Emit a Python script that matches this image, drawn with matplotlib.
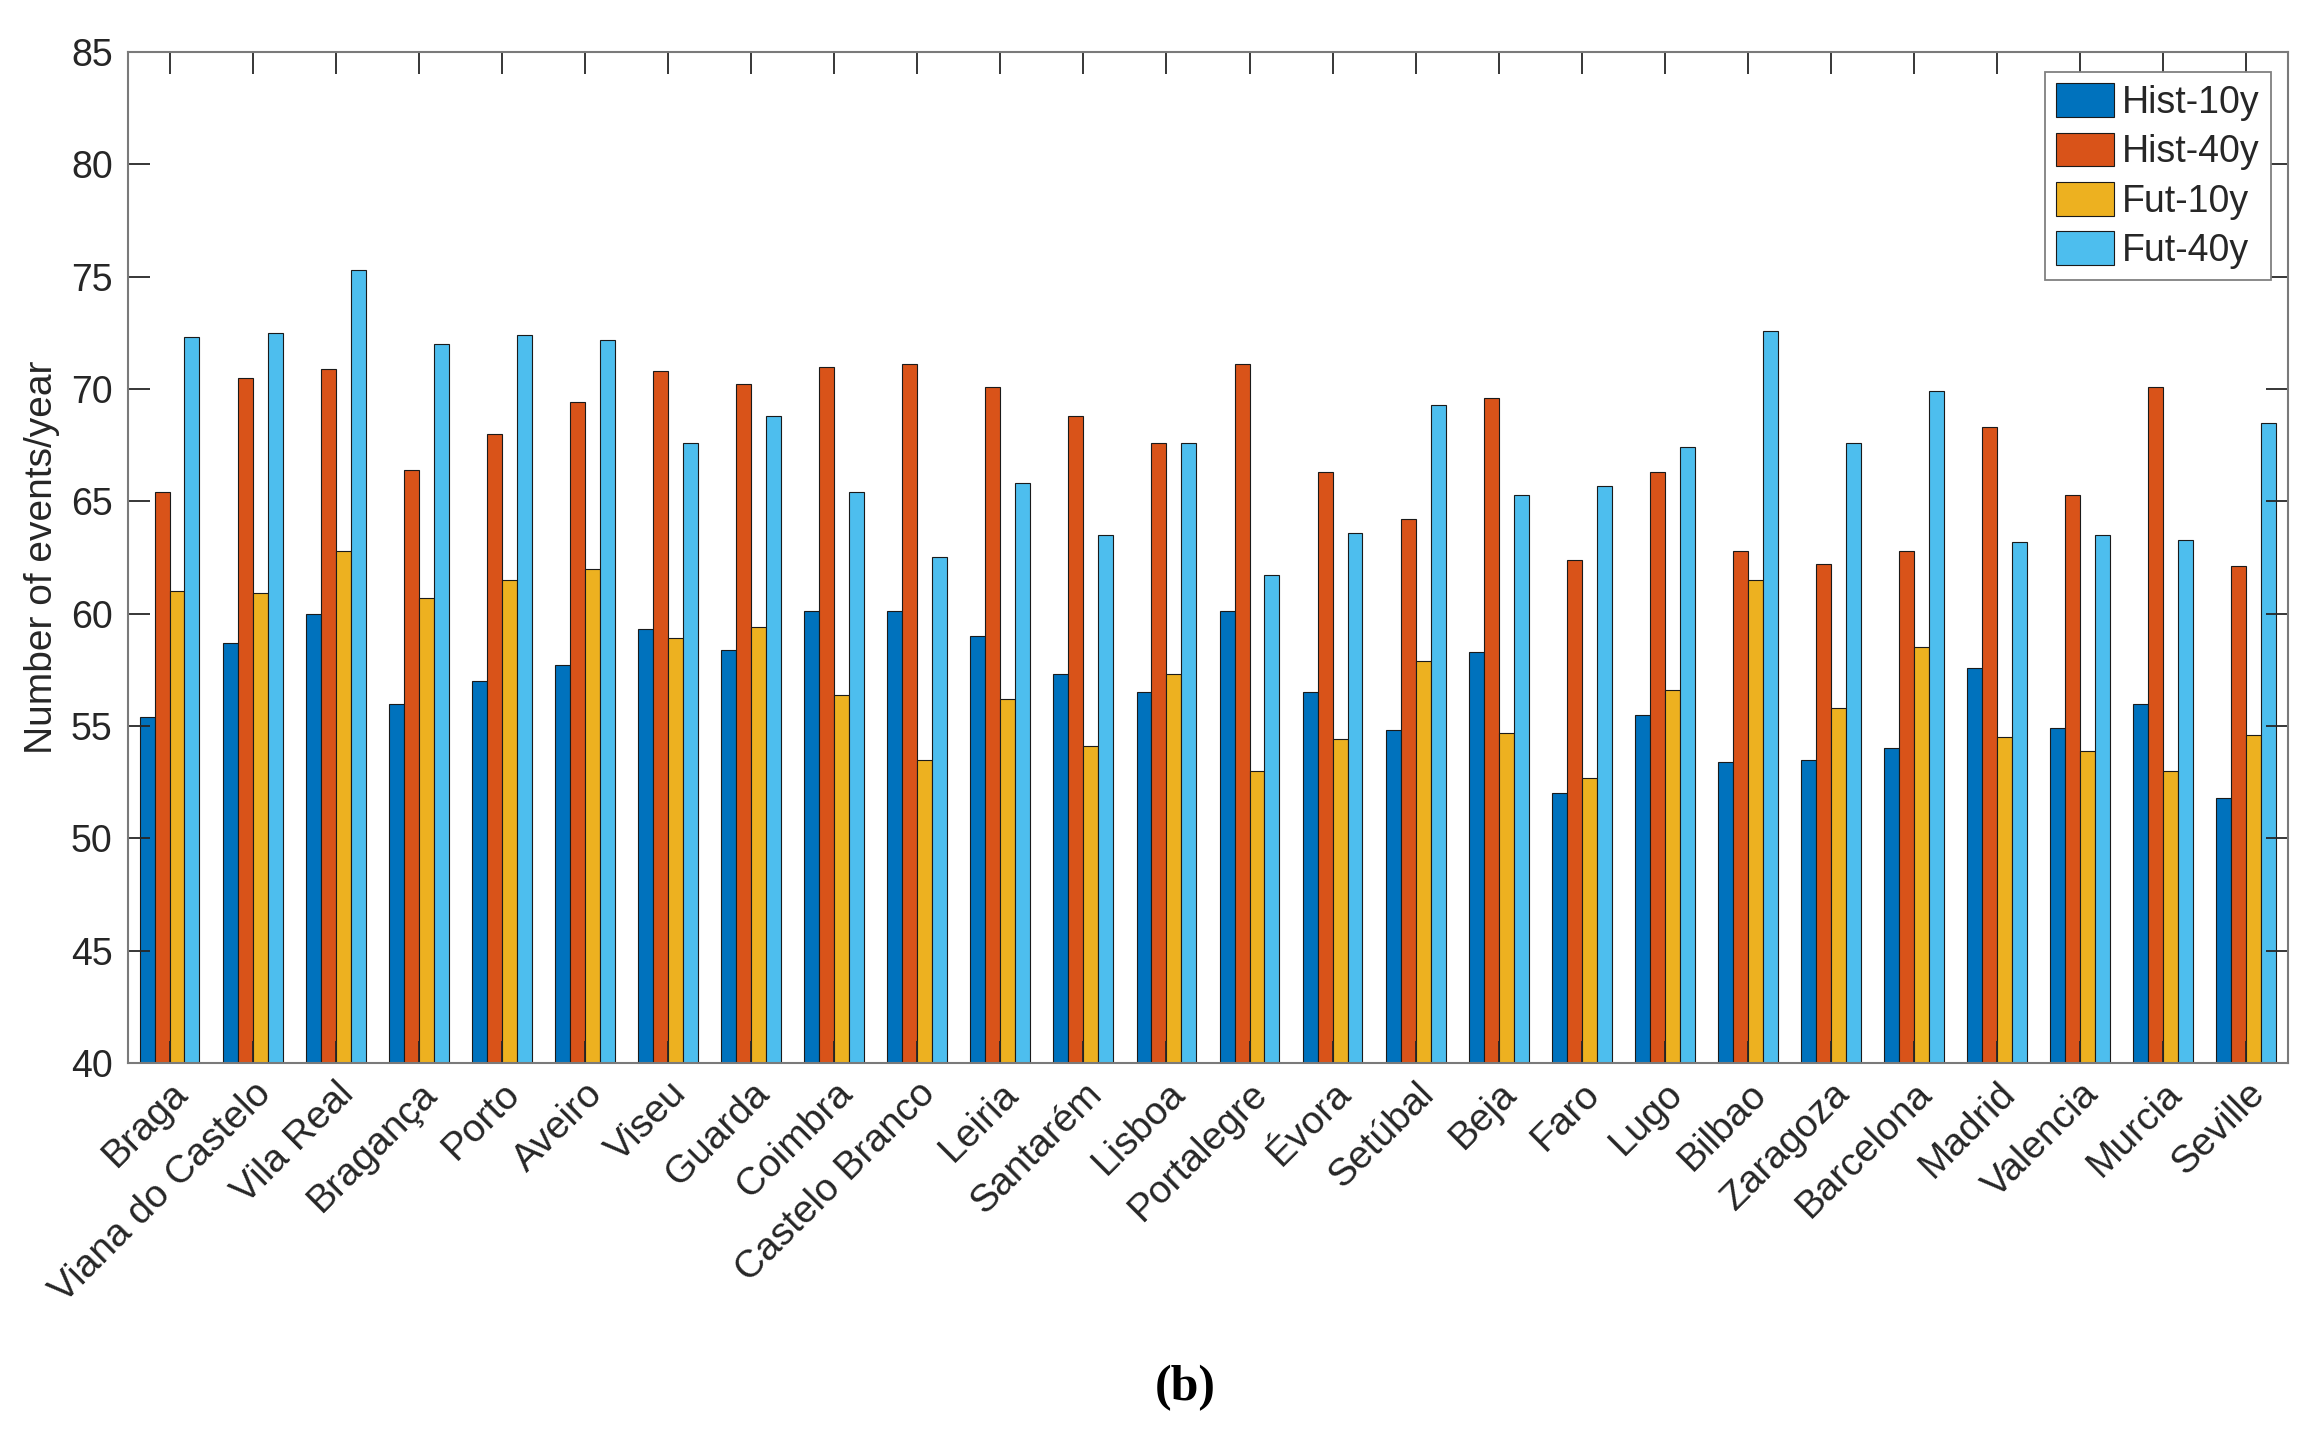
import matplotlib
matplotlib.use("Agg")
import matplotlib.pyplot as plt
import numpy as np

cities = ["Braga", "Viana do Castelo", "Vila Real", "Bragança", "Porto", "Aveiro", "Viseu",
          "Guarda", "Coimbra", "Castelo Branco", "Leiria", "Santarém", "Lisboa", "Portalegre",
          "Évora", "Setúbal", "Beja", "Faro", "Lugo", "Bilbao", "Zaragoza", "Barcelona",
          "Madrid", "Valencia", "Murcia", "Seville"]

hist_10y = [55.4, 58.7, 60.0, 56.0, 57.0, 57.7, 59.3, 58.4, 60.1, 60.1, 59.0, 57.3, 56.5,
            60.1, 56.5, 54.8, 58.3, 52.0, 55.5, 53.4, 53.5, 54.0, 57.6, 54.9, 56.0, 51.8]
hist_40y = [65.4, 70.5, 70.9, 66.4, 68.0, 69.4, 70.8, 70.2, 71.0, 71.1, 70.1, 68.8, 67.6,
            71.1, 66.3, 64.2, 69.6, 62.4, 66.3, 62.8, 62.2, 62.8, 68.3, 65.3, 70.1, 62.1]
fut_10y = [61.0, 60.9, 62.8, 60.7, 61.5, 62.0, 58.9, 59.4, 56.4, 53.5, 56.2, 54.1, 57.3,
           53.0, 54.4, 57.9, 54.7, 52.7, 56.6, 61.5, 55.8, 58.5, 54.5, 53.9, 53.0, 54.6]
fut_40y = [72.3, 72.5, 75.3, 72.0, 72.4, 72.2, 67.6, 68.8, 65.4, 62.5, 65.8, 63.5, 67.6,
           61.7, 63.6, 69.3, 65.3, 65.7, 67.4, 72.6, 67.6, 69.9, 63.2, 63.5, 63.3, 68.5]

series_names = ["Hist-10y", "Hist-40y", "Fut-10y", "Fut-40y"]
series = [hist_10y, hist_40y, fut_10y, fut_40y]
colors = ["#0072BD", "#D95319", "#EDB120", "#4DBEEE"]

yticks = [40, 45, 50, 55, 60, 65, 70, 75, 80, 85]

plt.rcParams["font.family"] = ["Liberation Sans", "DejaVu Sans"]
txt = "#262626"
spine = "#7a7a7a"

fig = plt.figure(figsize=(23.19, 14.40), dpi=100)
ax = fig.add_axes([0.0552, 0.2618, 0.9314, 0.7021])

x = np.arange(1, len(cities) + 1)
w = 0.18
offsets = [-1.5 * w, -0.5 * w, 0.5 * w, 1.5 * w]
for vals, name, c, off in zip(series, series_names, colors, offsets):
    ax.bar(x + off, np.array(vals) - 40, width=w, bottom=40, color=c,
           edgecolor="#1a1a1a", linewidth=0.8, label=name)

ax.set_xlim(0.5, len(cities) + 0.5)
ax.set_ylim(40, 85)
ax.set_yticks(yticks)
ax.set_xticks(x)
ax.set_xticklabels(cities, rotation=45, ha="right", va="top",
                   rotation_mode="anchor", fontsize=28, color=txt)
ax.tick_params(axis="x", direction="in", length=15.5, width=1.3, top=True,
               colors=txt, pad=9)
ax.tick_params(axis="y", direction="in", length=15.5, width=1.3, right=True,
               labelsize=27, colors=txt, pad=11)
for s in ax.spines.values():
    s.set_color(spine)
    s.set_linewidth(1.5)

ax.set_ylabel("Number of events/year", fontsize=28, color=txt, labelpad=8)

leg = ax.legend(loc="upper right", bbox_to_anchor=(0.992, 0.980), fontsize=27,
                fancybox=False, edgecolor="#808080", framealpha=1,
                handlelength=1.55, handleheight=1.0, handletextpad=0.2,
                labelspacing=0.31, borderpad=0.3, borderaxespad=0)
leg.get_frame().set_linewidth(1.3)
for t in leg.get_texts():
    t.set_color(txt)

fig.text(0.511, 0.036, "(b)", fontsize=36, fontweight="bold",
         family=["Liberation Serif", "DejaVu Serif"], ha="center", va="center",
         color="black")

fig.savefig("out.png", dpi=100, facecolor="white")
